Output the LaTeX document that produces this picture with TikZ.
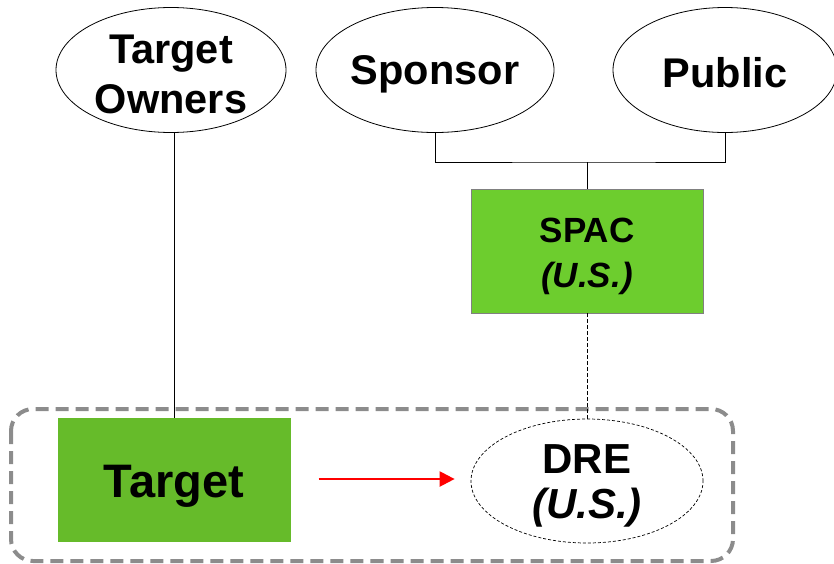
\documentclass[tikz,border=0pt]{standalone}
\usepackage{fontspec}
\setmainfont{Liberation Sans}
\usetikzlibrary{shapes.geometric,arrows.meta}
\definecolor{spacgreen}{RGB}{109,205,46}
\definecolor{targetgreen}{RGB}{102,187,42}
\definecolor{boxgray}{RGB}{140,140,140}
\newcommand\twolines[3]{\vtop{\baselineskip=#1\relax\lineskiplimit=-100pt\halign{\hfil##\hfil\cr#2\cr#3\cr}}}
\tikzset{
  party/.style={draw=black, line width=0.8pt, ellipse, fill=white, inner sep=0pt,
    minimum width=230pt, minimum height=125pt,
    font=\bfseries\fontsize{41.5}{50}\selectfont},
  greenbox/.style={rectangle, inner sep=0pt},
  link/.style={draw=black, line width=1pt},
  dlink/.style={draw=black, line width=0.9pt, dash pattern=on 4pt off 2pt},
}
\begin{document}
\begin{tikzpicture}[x=1pt,y=-1pt]
\useasboundingbox (0,0) rectangle (834,563);
% outer dashed frame
\draw[boxgray, line width=4pt, dash pattern=on 13pt off 7pt, rounded corners=22pt]
  (11,409) rectangle (733,561);
% top ellipses
\node[party, text height=10pt, text depth=24pt] (to) at (171,70) {\twolines{50pt}{Target}{Owners}};
\node[party, text height=30pt, text depth=2pt] (sp) at (435,70) {Sponsor};
\node[party, minimum width=224pt, text height=34pt, text depth=0pt] (pub) at (725,70) {Public};
% SPAC
\node[greenbox, fill=spacgreen, draw=gray, line width=0.8pt,
      minimum width=232pt, minimum height=124pt, text height=10pt, text depth=28pt,
      font=\bfseries\fontsize{35}{45}\selectfont] (spac) at (587,251)
      {\twolines{45pt}{SPAC}{\textit{(U.S.)}}};
% Target
\node[greenbox, fill=targetgreen, minimum width=233pt, minimum height=124pt,
      text height=34pt, text depth=0pt,
      font=\bfseries\fontsize{47}{50}\selectfont] (target) at (174,480) {Target};
% DRE
\node[ellipse, draw=black, line width=0.7pt, dash pattern=on 3pt off 2pt, fill=white,
      inner sep=0pt, minimum width=232pt, minimum height=124pt,
      text height=10pt, text depth=26pt,
      font=\bfseries\fontsize{42}{45}\selectfont] (dre) at (587,481)
      {\twolines{45pt}{DRE}{\textit{(U.S.)}}};
% connectors
\coordinate (j) at (587,162);
\draw[link] (target.north) -- (target.north |- to.south);
\draw[link] (sp.south) |- (j) -| (pub.south);
\draw[link] (j) -- (spac.north);
\draw[dlink] (spac.south) -- (dre.north);
\draw[red, line width=2.2pt, -{Triangle[length=15pt,width=15pt]},
      shorten <=28pt, shorten >=16pt] ([yshift=1pt]target.east) -- ([yshift=1pt]target.east -| dre.west);
\end{tikzpicture}
\end{document}
